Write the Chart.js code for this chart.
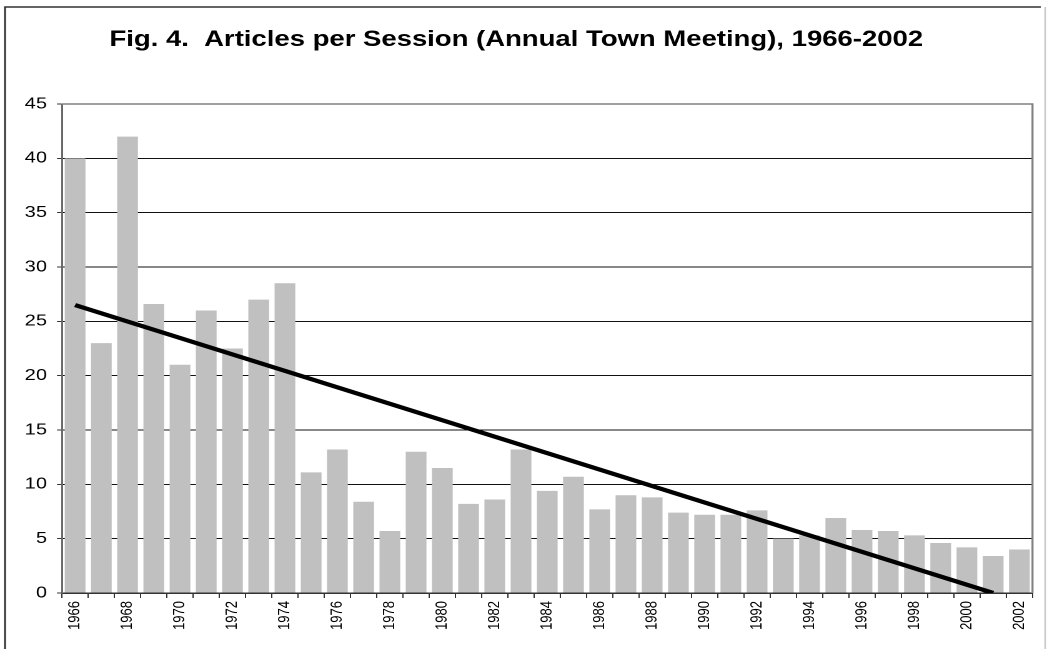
<!DOCTYPE html>
<html>
<head>
<meta charset="utf-8">
<script src="https://cdn.jsdelivr.net/npm/chart.js@4"></script>
<style>
  html, body { margin: 0; padding: 0; background: #fff; }
  #wrap { width: 1047px; height: 649px; overflow: hidden; }
  /* the original picture is stretched sideways, so stretch the chart box too */
  #box { width: 838px; height: 649px; transform: scaleX(1.2494); transform-origin: 0 0; }
</style>
</head>
<body>
<div id="wrap"><div id="box"><canvas id="chart"></canvas></div></div>
<script>
const years = ['1966', '1967', '1968', '1969', '1970', '1971', '1972', '1973', '1974', '1975',
  '1976', '1977', '1978', '1979', '1980', '1981', '1982', '1983', '1984', '1985',
  '1986', '1987', '1988', '1989', '1990', '1991', '1992', '1993', '1994', '1995',
  '1996', '1997', '1998', '1999', '2000', '2001', '2002'];

const articles = [40, 23, 42, 26.6, 21, 26, 22.5, 27, 28.5, 11.1,
  13.2, 8.4, 5.7, 13, 11.5, 8.2, 8.6, 13.2, 9.4, 10.7,
  7.7, 9, 8.8, 7.4, 7.2, 7.2, 7.6, 5, 5.3, 6.9,
  5.8, 5.7, 5.3, 4.6, 4.2, 3.4, 4];

const trend = [26.5, null, null, null, null, null, null, null, null, null,
  null, null, null, null, null, null, null, null, null, null,
  null, null, null, null, null, null, null, null, null, null,
  null, null, null, null, null, 0, null];

const yTicks = [0, 5, 10, 15, 20, 25, 30, 35, 40, 45];

const fontFamily = "'Liberation Sans', Arial, sans-serif";

const frame = {
  id: 'frame',
  beforeDraw(chart) {
    const c = chart.ctx;
    c.save();
    c.fillStyle = '#fff';
    c.fillRect(0, 0, chart.width, chart.height);
    c.strokeStyle = '#333';
    c.lineWidth = 1.5;
    c.beginPath();
    c.moveTo(4, chart.height);
    c.lineTo(4, 7);
    c.lineTo(833, 7);
    c.stroke();
    c.strokeStyle = '#c8c8c8';
    c.lineWidth = 1.2;
    c.beginPath();
    c.moveTo(836.5, 7);
    c.lineTo(836.5, chart.height);
    c.stroke();
    c.restore();
  },
  beforeDatasetsDraw(chart) {
    const a = chart.chartArea, c = chart.ctx;
    c.save();
    c.strokeStyle = '#808080';
    c.lineWidth = 1.6;
    c.beginPath();
    c.moveTo(a.left, a.top);
    c.lineTo(a.right, a.top);
    c.lineTo(a.right, a.bottom);
    c.stroke();
    c.restore();
  }
};

new Chart(document.getElementById('chart'), {
  data: {
    labels: years,
    datasets: [
      {
        type: 'line',
        data: trend,
        borderColor: '#000',
        borderWidth: 4.2,
        pointRadius: 0,
        spanGaps: true,
        tension: 0,
        order: 1
      },
      {
        type: 'bar',
        data: articles,
        backgroundColor: '#c0c0c0',
        barPercentage: 0.79,
        categoryPercentage: 1,
        order: 2
      }
    ]
  },
  options: {
    responsive: true,
    maintainAspectRatio: false,
    devicePixelRatio: 2,
    animation: false,
    layout: { padding: { left: 0, right: 11.6, top: 0, bottom: 0 } },
    plugins: {
      legend: { display: false },
      tooltip: { enabled: false },
      title: {
        display: true,
        text: 'Fig. 4.  Articles per Session (Annual Town Meeting), 1966-2002',
        color: '#000',
        font: { family: fontFamily, size: 22, weight: 'bold' },
        padding: { top: 26.5, bottom: 51.1 }
      }
    },
    scales: {
      x: {
        offset: true,
        grid: { offset: true, drawOnChartArea: false, drawTicks: true, tickLength: 5, color: '#333' },
        border: { color: '#333', width: 1.5 },
        ticks: {
          autoSkip: false,
          minRotation: 90,
          maxRotation: 90,
          padding: 3,
          color: '#000',
          font: { family: fontFamily, size: 13 },
          callback: (v, i) => (i % 2 === 0 ? years[i] : '')
        },
        afterFit(s) { s.height = 56; }
      },
      y: {
        min: 0,
        max: 45,
        afterBuildTicks(s) { s.ticks = yTicks.map(v => ({ value: v })); },
        grid: {
          color: ctx => (ctx.tick && ctx.tick.value === 45 ? 'rgba(0,0,0,0)' : '#111'),
          lineWidth: 1,
          tickLength: 4,
          tickColor: '#333'
        },
        border: { color: '#666', width: 1.5 },
        ticks: {
          padding: 8,
          color: '#000',
          font: { family: fontFamily, size: 16 }
        },
        afterFit(s) { s.width = 49.6; }
      }
    }
  },
  plugins: [frame]
});
</script>
</body>
</html>
